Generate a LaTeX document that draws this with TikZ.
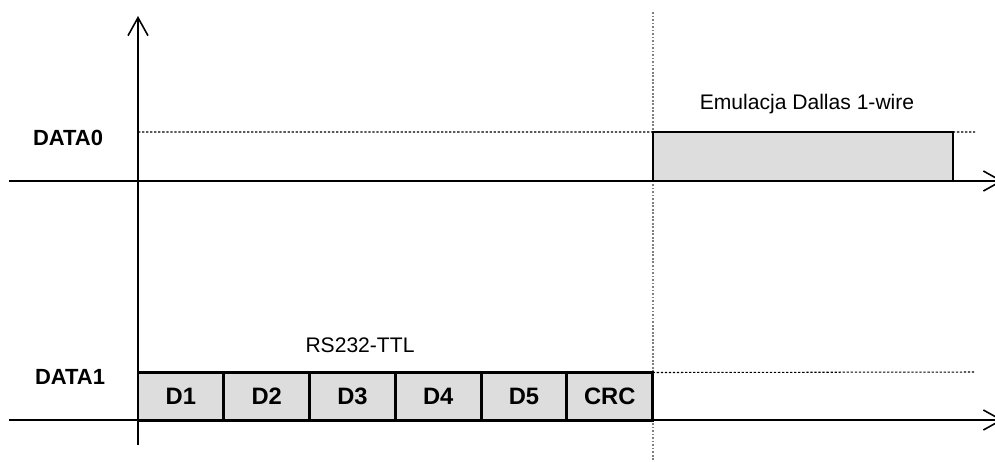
\documentclass[tikz,border=0pt]{standalone}
\usepackage{fontspec}
\setmainfont{Liberation Sans}
\usetikzlibrary{positioning,arrows.meta}
\definecolor{cellgray}{RGB}{221,221,221}

\begin{document}
\begin{tikzpicture}
	  [
	    x                 = 0.02cm,
	    y                 = -0.02cm,
	    every node/.style = {font=\fontsize{12}{14}\selectfont},
	    tag/.style        = {font=\bfseries\fontsize{12.5}{15}\selectfont},
	    axis/.style       = {draw, line width=1.1pt,
	                         -{Straight Barb[length=0.36cm,width=0.40cm,line width=0.9pt]}},
	    level/.style      = {draw, line width=0.6pt, dash pattern=on 1.3pt off 1pt},
	    split/.style      = {draw, gray, line width=0.8pt, dash pattern=on 1pt off 1pt},
		frame/.style		= {
			draw, fill=cellgray, line width=1.7pt,
			minimum width=1.716cm, minimum height=0.95cm,
			inner sep=0pt, outer sep=0pt,
			font=\bfseries\fontsize{13.5}{16}\selectfont
		},
		pulse/.style		= {
			draw, fill=cellgray, line width=1.1pt,
			minimum width=6cm, minimum height=0.98cm,
			inner sep=0pt, outer sep=0pt
		}
		]
		\useasboundingbox (0,0) rectangle (995,461);
		% axes
		\coordinate (yb) at (138,445);
		\coordinate (yt) at (138,16);
		\coordinate (t0) at (9,181);
		\coordinate (t1) at (1003,181);
		\coordinate (b0) at (9,420);
		\coordinate (b1) at (1003,420);
		\coordinate (sp0) at (653,12);
		\coordinate (sp1) at (653,461);
		\draw[split] (sp0) -- (sp1);
		\draw[axis] (yb) -- (yt);
		\draw[axis] (t0) -- (t1);
		\draw[axis] (b0) -- (b1);
		% DATA0
		\node[tag] (data0) at (68,138) {DATA0};
		\node[pulse, anchor=south west] (emul) at (653,181) {};
		\node (emtext) at (807,104) {Emulacja Dallas 1-wire};
		\coordinate (h0a) at (138,132);
		\coordinate (h0b) at (975,132);
		\draw[level] (h0a) -- (emul.north west);
		\draw[level] (emul.north east) -- (h0b);
		% DATA1
		\node[tag] (data1) at (70,377) {DATA1};
		\node (rstext) at (360,345) {RS232-TTL};
		\node[frame, anchor=south west] (d1) at (138,420) {D1};
		\node[frame, right=0pt of d1] (d2) {D2};
		\node[frame, right=0pt of d2] (d3) {D3};
		\node[frame, right=0pt of d3] (d4) {D4};
		\node[frame, right=0pt of d4] (d5) {D5};
		\node[frame, right=0pt of d5] (crc) {CRC};
		\coordinate (h1b) at (975,372);
		\draw[level] (crc.north east) -- (h1b);
	\end{tikzpicture}
\end{document}
